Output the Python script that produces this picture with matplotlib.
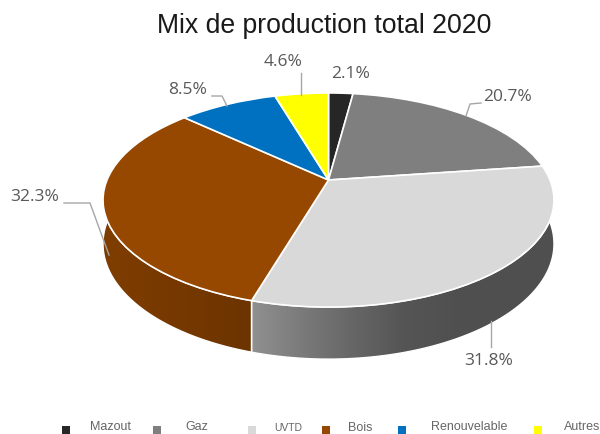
"""Mix de production total 2020: camembert en perspective."""
import numpy as np
import matplotlib
matplotlib.use("Agg")
import matplotlib.pyplot as plt
from matplotlib.colors import LinearSegmentedColormap
from matplotlib.patches import Polygon
from matplotlib.transforms import Transform

categories = ["Mazout", "Gaz", "UVTD", "Bois", "Renouvelable", "Autres"]
values = [2.1, 20.7, 31.8, 32.3, 8.5, 4.6]
colors = ["#262626", "#7f7f7f", "#d9d9d9", "#964800", "#0070c0", "#ffff00"]
title = "Mix de production total 2020"

# position des etiquettes, en pixels de l'image
label_pos = [(351, 74), (508, 97), (489, 361), (35, 197), (188, 90), (283, 62)]
leaders = [
    None,
    [(466, 116), (470, 104), (481, 103)],
    [(491, 321), (491, 347)],
    [(64, 203), (90, 203), (109, 255)],
    [(212, 96), (222, 96), (227, 106)],
    [(301, 73), (301, 95)],
]

legend_marker_x = [66, 157, 252, 326, 402, 538]
legend_marker_y = 430
legend_text_x = [90, 185, 274, 348, 431, 564]
legend_y = [427, 427, 428, 428, 427, 427]
legend_size = [9, 9, 7.5, 9, 9, 9]

# gradients des flancs visibles
side_grads = {
    "UVTD": ["#909090", "#7a7a7a", "#666666", "#555555", "#505050", "#4f4f4f", "#505050"],
    "Bois": ["#7f3d00", "#793a00", "#733700", "#6c3400"],
}

CX, CY = 328.5, 180
A, B, K = 221.5, 103.3, 0.187
DEPTH = 42.3


class Perspective(Transform):
    """Cercle unite du pie -> ellipse vue en perspective, en pixels."""
    input_dims = 2
    output_dims = 2

    def transform_non_affine(self, pts):
        pts = np.asarray(pts, dtype=float)
        u, v = pts[:, 0], -pts[:, 1]
        den = 1 - K * v
        return np.column_stack([CX + A * u / den, CY + B * v / den])


def rim(theta1, theta2, drop=False):
    t = np.radians(np.linspace(theta1, theta2, 120))
    pts = Perspective().transform_non_affine(np.column_stack([np.cos(t), np.sin(t)]))
    if drop:
        pts[:, 1] += DEPTH / (1 + K * np.sin(t))
    return pts


fig = plt.figure(figsize=(6, 4.34), dpi=100)
ax = fig.add_axes([0, 0, 1, 1])

wedges, _ = ax.pie(values, colors=colors, startangle=90, counterclock=False,
                   wedgeprops={"edgecolor": "white", "linewidth": 1.2, "zorder": 5})
proj = Perspective() + ax.transData
for w in wedges:
    w.set_transform(proj)

# flancs avant
for name, w in zip(categories, wedges):
    if name not in side_grads:
        continue
    top = rim(w.theta1, w.theta2)
    bottom = rim(w.theta1, w.theta2, drop=True)
    outline = np.vstack([top, bottom[::-1]])
    poly = Polygon(outline, closed=True, facecolor="none", edgecolor="white",
                   linewidth=1.0, zorder=3)
    ax.add_patch(poly)
    x0, x1 = outline[:, 0].min(), outline[:, 0].max()
    y0, y1 = outline[:, 1].min(), outline[:, 1].max()
    cmap = LinearSegmentedColormap.from_list(name, side_grads[name])
    img = ax.imshow(np.linspace(0, 1, 256)[None, :], cmap=cmap, aspect="auto",
                    extent=(x0, x1, y1, y0), zorder=2)
    img.set_clip_path(poly)

ax.set_aspect("auto")
ax.set_xlim(0, 600)
ax.set_ylim(434, 0)
ax.axis("off")

fig.text(324 / 600, 1 - 26 / 434, title, ha="center", va="center", fontsize=19.2,
         family="Liberation Sans", color="#1a1a1a")

for v, (x, y), line in zip(values, label_pos, leaders):
    ax.text(x, y, f"{v}%", ha="center", va="center", fontsize=12.5,
            family="Open Sans", color="#595959", zorder=8)
    if line:
        xs, ys = zip(*line)
        ax.plot(xs, ys, color="#a6a6a6", lw=1, zorder=7)

ax.scatter(legend_marker_x, [legend_marker_y] * len(categories), c=colors, marker="s",
           s=30, linewidths=0, zorder=8)
for name, x, y, size in zip(categories, legend_text_x, legend_y, legend_size):
    ax.text(x, y, name, ha="left", va="center", fontsize=size,
            family="Liberation Sans", color="#666666", clip_on=True)

fig.savefig("out.png", dpi=100)
